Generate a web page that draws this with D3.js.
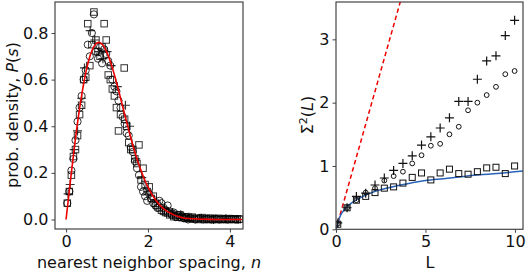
<!DOCTYPE html>
<html lang="en">
<head>
  <meta charset="UTF-8">
  <title>spacing</title>
  <script src="https://d3js.org/d3.v7.min.js"></script>
  <style>
    body { margin: 0; background: #fff; }
    text { font-family: "DejaVu Sans", sans-serif; fill: #111; }
  </style>
</head>
<body>
  <div id="root"></div>
  <script>
    // left panel: nearest neighbour spacing histograms [s, P]
    const squares = [[0.03,0.07],[0.08,0.12],[0.13,0.19],[0.18,0.27],[0.23,0.30],[0.28,0.36],[0.33,0.45],[0.38,0.49],[0.43,0.60],[0.48,0.61],
      [0.53,0.84],[0.58,0.66],[0.63,0.75],[0.68,0.89],[0.73,0.77],[0.78,0.72],[0.83,0.70],[0.88,0.74],[0.93,0.84],[0.98,0.77],
      [1.03,0.62],[1.08,0.60],[1.13,0.56],[1.18,0.53],[1.23,0.48],[1.28,0.38],[1.33,0.45],[1.42,0.65],[1.43,0.43],[1.48,0.40],
      [1.53,0.33],[1.58,0.30],[1.63,0.30],[1.68,0.26],[1.73,0.24],[1.78,0.32],[1.83,0.17],[1.88,0.22],[1.93,0.15],[1.98,0.12],
      [2.03,0.14],[2.08,0.09],[2.13,0.10],[2.18,0.07],[2.23,0.06],[2.28,0.05],[2.33,0.04],[2.38,0.035],[2.43,0.03],[2.48,0.028],
      [2.53,0.02],[2.58,0.025],[2.63,0.012],[2.68,0.018],[2.73,0.01],[2.78,0.02],[2.83,0.008],[2.88,0.012],[2.93,0.005],[2.98,0.01],
      [3.03,0.004],[3.08,0.01],[3.13,0.002],[3.18,0.006],[3.23,0.0],[3.28,0.004],[3.33,0.008],[3.38,0.0],[3.43,0.004],[3.48,0.0],
      [3.53,0.006],[3.58,0.0],[3.63,0.003],[3.68,0.0],[3.73,0.005],[3.78,0.0],[3.83,0.002],[3.88,0.0],[3.93,0.004],[3.98,0.0],
      [4.03,0.002],[4.08,0.0],[4.13,0.003],[4.18,0.0],[4.23,0.002]]
    const circles = [[0.03,0.07],[0.08,0.12],[0.13,0.21],[0.18,0.26],[0.23,0.34],[0.28,0.42],[0.33,0.48],[0.38,0.53],[0.43,0.60],[0.48,0.64],
      [0.53,0.75],[0.58,0.70],[0.63,0.80],[0.68,0.88],[0.73,0.72],[0.78,0.69],[0.83,0.74],[0.88,0.67],[0.93,0.73],[0.98,0.71],
      [1.03,0.68],[1.08,0.66],[1.13,0.60],[1.18,0.57],[1.23,0.55],[1.28,0.51],[1.33,0.48],[1.38,0.44],[1.43,0.41],[1.48,0.37],
      [1.53,0.36],[1.58,0.31],[1.63,0.29],[1.68,0.25],[1.73,0.22],[1.78,0.19],[1.83,0.14],[1.88,0.12],[1.93,0.10],[1.98,0.08],
      [2.03,0.11],[2.08,0.09],[2.13,0.07],[2.18,0.06],[2.23,0.05],[2.28,0.08],[2.33,0.07],[2.38,0.05],[2.43,0.04],[2.48,0.06],
      [2.53,0.035],[2.58,0.02],[2.63,0.03],[2.68,0.01],[2.73,0.02],[2.78,0.01],[2.83,0.015],[2.88,0.005],[2.93,0.01],[2.98,0.0],
      [3.05,0.006],[3.15,0.0],[3.25,0.005],[3.35,0.0],[3.45,0.003],[3.55,0.0],[3.65,0.004],[3.75,0.0],[3.85,0.002],[3.95,0.0],
      [4.05,0.003],[4.15,0.0],[4.25,0.001]]
    const pluses = [[0.05,0.11],[0.1,0.15],[0.2,0.30],[0.28,0.38],[0.38,0.52],[0.45,0.65],[0.59,0.81],[0.7,0.77],[0.8,0.72],[0.9,0.69],
      [1.0,0.72],[1.1,0.66],[1.25,0.57],[1.45,0.49],[1.55,0.40],[1.7,0.26],[1.85,0.18],[2.0,0.12],[2.2,0.08],[2.4,0.05],
      [2.6,0.03],[2.8,0.02],[3.0,0.01],[3.3,0.005],[3.6,0.0],[3.9,0.003],[4.2,0.0]]
    // red reference curve
    const curveS = [0,0.1,0.2,0.3,0.4,0.5,0.6,0.7,0.8,0.9,1.0,1.1,1.2,1.3,1.4,1.5,1.6,1.7,1.8,1.9,2.0,2.2,2.4,2.6,2.8,3.0,3.5,4.0,4.3]
    const curveP = [0,0.155,0.305,0.44,0.553,0.645,0.71,0.748,0.76,0.748,0.716,0.668,0.608,0.542,0.472,0.404,0.338,0.278,0.225,0.178,0.139,0.08,0.043,0.022,0.01,0.004,0.0005,0,0]

    // right panel: number variance
    const L = [0.1,0.62,1.14,1.66,2.18,2.7,3.22,3.74,4.26,4.78,5.3,5.82,6.34,6.86,7.38,7.9,8.42,8.94,9.46,9.98]
    const sigSquares = [0.08,0.34,0.46,0.52,0.58,0.65,0.67,0.73,0.82,0.89,0.78,0.89,0.95,0.88,0.87,0.91,0.97,0.98,0.88,1.00]
    const sigCircles = [0.09,0.34,0.46,0.58,0.65,0.77,0.84,0.91,1.04,1.17,1.32,1.35,1.50,1.62,1.88,2.00,2.12,2.25,2.45,2.50]
    const sigPluses = [0.10,0.34,0.52,0.57,0.70,0.81,0.93,1.04,1.16,1.33,1.46,1.60,1.76,2.02,2.02,2.37,2.66,2.74,3.06,3.30]
    const blueL = [0,0.1,0.25,0.5,0.75,1,1.5,2,3,4,5,6,7,8,9,10,10.45]
    const blueS = [0,0.1,0.22,0.32,0.39,0.44,0.52,0.58,0.66,0.72,0.77,0.80,0.83,0.86,0.88,0.91,0.92]
    const poissonL = [0, 4]

    const W = 526, H = 274
    const svg = d3.select('#root').append('svg')
      .attr('width', W).attr('height', H)

    const frameColor = '#444'

    function panel(id, x, y) {
      const g = svg.append('g')
      const [x0, x1] = x.range(), [y0, y1] = y.range()
      svg.append('clipPath').attr('id', id)
        .append('rect').attr('x', x0).attr('y', y1).attr('width', x1 - x0).attr('height', y0 - y1)
      const inner = g.append('g').attr('clip-path', `url(#${id})`)
      return { g, inner }
    }

    function axes(g, x, y, xt, yt, yfmt) {
      const [x0, x1] = x.range(), [y0, y1] = y.range()
      const ax = g.append('g').attr('transform', `translate(0,${y0})`)
        .call(d3.axisBottom(x).tickValues(xt).tickSize(3.5).tickPadding(3).tickFormat(d3.format('d')))
      const ay = g.append('g').attr('transform', `translate(${x0},0)`)
        .call(d3.axisLeft(y).tickValues(yt).tickSize(3.5).tickPadding(3).tickFormat(yfmt))
      ;[ax, ay].forEach(a => {
        a.select('.domain').remove()
        a.selectAll('line').attr('stroke', frameColor).attr('stroke-width', 1)
        a.selectAll('text').style('font-size', '16px').attr('fill', '#111')
      })
      g.append('rect').attr('x', x0).attr('y', y1).attr('width', x1 - x0).attr('height', y0 - y1)
        .attr('fill', 'none').attr('stroke', frameColor).attr('stroke-width', 1.2)
    }

    const sq = (g, pts, x, y, size, col) => g.selectAll(null).data(pts).enter().append('rect')
      .attr('x', d => x(d[0]) - size / 2).attr('y', d => y(d[1]) - size / 2)
      .attr('width', size).attr('height', size)
      .attr('fill', 'none').attr('stroke', col).attr('stroke-width', 1)
    const ci = (g, pts, x, y, r, col) => g.selectAll(null).data(pts).enter().append('circle')
      .attr('cx', d => x(d[0])).attr('cy', d => y(d[1])).attr('r', r)
      .attr('fill', 'none').attr('stroke', col).attr('stroke-width', 1)
    const pl = (g, pts, x, y, h, col) => g.selectAll(null).data(pts).enter().append('path')
      .attr('d', d => `M${x(d[0]) - h},${y(d[1])}h${2 * h}M${x(d[0])},${y(d[1]) - h}v${2 * h}`)
      .attr('fill', 'none').attr('stroke', col).attr('stroke-width', 1.2)

    // ---- left panel
    const x1 = d3.scaleLinear().domain([-0.27, 4.32]).range([55, 243])
    const y1 = d3.scaleLinear().domain([-0.0408, 0.933]).range([229, 2])
    const left = panel('clipL', x1, y1)
    sq(left.inner, squares, x1, y1, 6.5, 'rgba(0,0,0,0.8)')
    ci(left.inner, circles, x1, y1, 3.6, 'rgba(0,0,0,0.8)')
    pl(left.inner, pluses, x1, y1, 4.5, 'rgba(0,0,0,0.8)')
    left.inner.append('path').datum(curveS.map((s, i) => [s, curveP[i]]))
      .attr('d', d3.line().x(d => x1(d[0])).y(d => y1(d[1])).curve(d3.curveMonotoneX))
      .attr('fill', 'none').attr('stroke', '#e00').attr('stroke-width', 1.6)
    axes(left.g, x1, y1, [0, 2, 4], [0, 0.2, 0.4, 0.6, 0.8], d3.format('.1f'))

    const lyl = svg.append('text').attr('transform', 'translate(18,115) rotate(-90)')
      .attr('text-anchor', 'middle').style('font-size', '16px')
    lyl.append('tspan').text('prob. density, ')
    lyl.append('tspan').attr('font-style', 'italic').text('P')
    lyl.append('tspan').text('(')
    lyl.append('tspan').attr('font-style', 'italic').text('s')
    lyl.append('tspan').text(')')
    const lxl = svg.append('text').attr('x', 149).attr('y', 268)
      .attr('text-anchor', 'middle').style('font-size', '16px')
    lxl.append('tspan').text('nearest neighbor spacing, ')
    lxl.append('tspan').attr('font-style', 'italic').text('n')

    // ---- right panel
    const x2 = d3.scaleLinear().domain([0, 10.45]).range([336, 523])
    const y2 = d3.scaleLinear().domain([0, 3.59]).range([229.3, 2])
    const right = panel('clipR', x2, y2)
    right.inner.append('path').datum(poissonL)
      .attr('d', d3.line().x(d => x2(d)).y(d => y2(d)))
      .attr('fill', 'none').attr('stroke', '#e00').attr('stroke-width', 1.5).attr('stroke-dasharray', '4.5,3')
    right.inner.append('path').datum(blueL.map((l, i) => [l, blueS[i]]))
      .attr('d', d3.line().x(d => x2(d[0])).y(d => y2(d[1])).curve(d3.curveMonotoneX))
      .attr('fill', 'none').attr('stroke', '#2a62b8').attr('stroke-width', 1.5)
    sq(right.inner, L.map((l, i) => [l, sigSquares[i]]), x2, y2, 6, '#111')
    ci(right.inner, L.map((l, i) => [l, sigCircles[i]]), x2, y2, 2.4, '#111')
    pl(right.inner, L.map((l, i) => [l, sigPluses[i]]), x2, y2, 4.5, '#111')
    axes(right.g, x2, y2, [0, 5, 10], [0, 1, 2, 3], d3.format('d'))

    const ryl = svg.append('text').attr('transform', 'translate(313,115) rotate(-90)')
      .attr('text-anchor', 'middle').style('font-size', '16px')
    ryl.append('tspan').text('Σ')
    ryl.append('tspan').attr('dy', -6).style('font-size', '11px').text('2')
    ryl.append('tspan').attr('dy', 6).text('(')
    ryl.append('tspan').attr('font-style', 'italic').text('L')
    ryl.append('tspan').text(')')
    svg.append('text').attr('x', 430).attr('y', 268).attr('text-anchor', 'middle')
      .style('font-size', '16px').text('L')
  </script>
</body>
</html>
